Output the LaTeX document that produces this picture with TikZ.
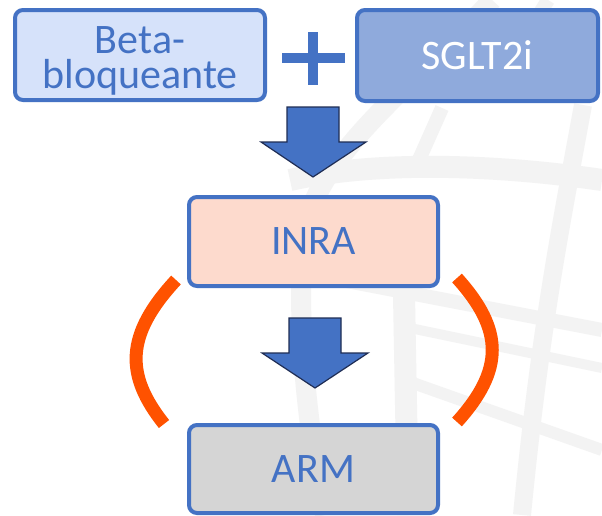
\documentclass[tikz,border=0pt]{standalone}
\usepackage{fontspec}
\setmainfont{Carlito}
\definecolor{accent}{HTML}{4472C4}
\definecolor{betafill}{HTML}{D6E2FA}
\definecolor{sgltfill}{HTML}{8FAADC}
\definecolor{inrafill}{HTML}{FDDACD}
\definecolor{armfill}{HTML}{D5D5D5}
\definecolor{arrowline}{HTML}{1F2D54}
\definecolor{arcorange}{HTML}{FF5200}
\definecolor{street}{HTML}{F3F3F3}
\begin{document}
\begin{tikzpicture}[x=1pt,y=-1pt,
  box/.style={draw=accent, line width=4pt, rounded corners=8pt, inner sep=0pt,
    text=accent, font=\fontsize{42}{35}\selectfont, align=center},
  blockarrow/.style={fill=accent, draw=arrowline, line width=1.2pt, line join=miter},
  arcline/.style={draw=arcorange, line width=13pt, line cap=butt},
  streetline/.style={draw=street, line width=14pt, line cap=butt}]
\useasboundingbox (0,0) rectangle (602,515);
\fill[white] (0,0) rectangle (602,515);
% faint background streets
\draw[streetline, line width=20pt] (492,0) .. controls (420,80) and (320,150) .. (305,230) .. controls (295,300) and (305,420) .. (325,515);
\draw[streetline, line width=18pt] (583,105) .. controls (560,230) and (540,330) .. (522,515);
\draw[streetline, line width=22pt] (404,295) -- (408,515);
\draw[streetline, line width=22pt] (290,180) .. controls (380,160) and (500,165) .. (602,180);
\draw[streetline] (300,272) -- (602,330);
\draw[streetline, line width=10pt] (410,328) -- (602,368);
\draw[streetline, line width=12pt] (410,382) -- (602,450);
\draw[streetline] (442,108) -- (418,162);
\draw[streetline] (548,0) -- (520,45);
% boxes
\node[box, fill=betafill, minimum width=250pt, minimum height=90pt] (beta) at (140,55)
  {\rule{0pt}{40pt}Beta-\\bloqueante\rule[-9pt]{0pt}{0pt}};
\node[box, fill=sgltfill, text=white, minimum width=241pt, minimum height=91pt] (sglt) at (477.5,55.5)
  {\rule[-5pt]{0pt}{38pt}SGLT2i};
\node[box, fill=inrafill, minimum width=249pt, minimum height=89pt] (inra) at (313.5,241.5)
  {\rule[-5pt]{0pt}{36pt}INRA};
\node[box, fill=armfill, minimum width=249pt, minimum height=88pt] (arm) at (313.5,469)
  {\rule[-5pt]{0pt}{37pt}ARM};
% plus sign
\fill[accent] (282,53.3) rectangle (345,62.7);
\fill[accent] (308.3,31.7) rectangle (318.3,85);
% block arrows
\draw[blockarrow] (287,107) -- (339,107) -- (339,142) -- (366,142) -- (313,177) -- (261,142) -- (287,142) -- cycle;
\draw[blockarrow] (289,318) -- (341,318) -- (341,353) -- (368,353) -- (315,388) -- (262,353) -- (289,353) -- cycle;
% orange brackets
\draw[arcline] (176,280) .. controls (125,335) and (125,375) .. (164,424);
\draw[arcline] (457,278) .. controls (504,330) and (504,370) .. (457,422);
\end{tikzpicture}
\end{document}
